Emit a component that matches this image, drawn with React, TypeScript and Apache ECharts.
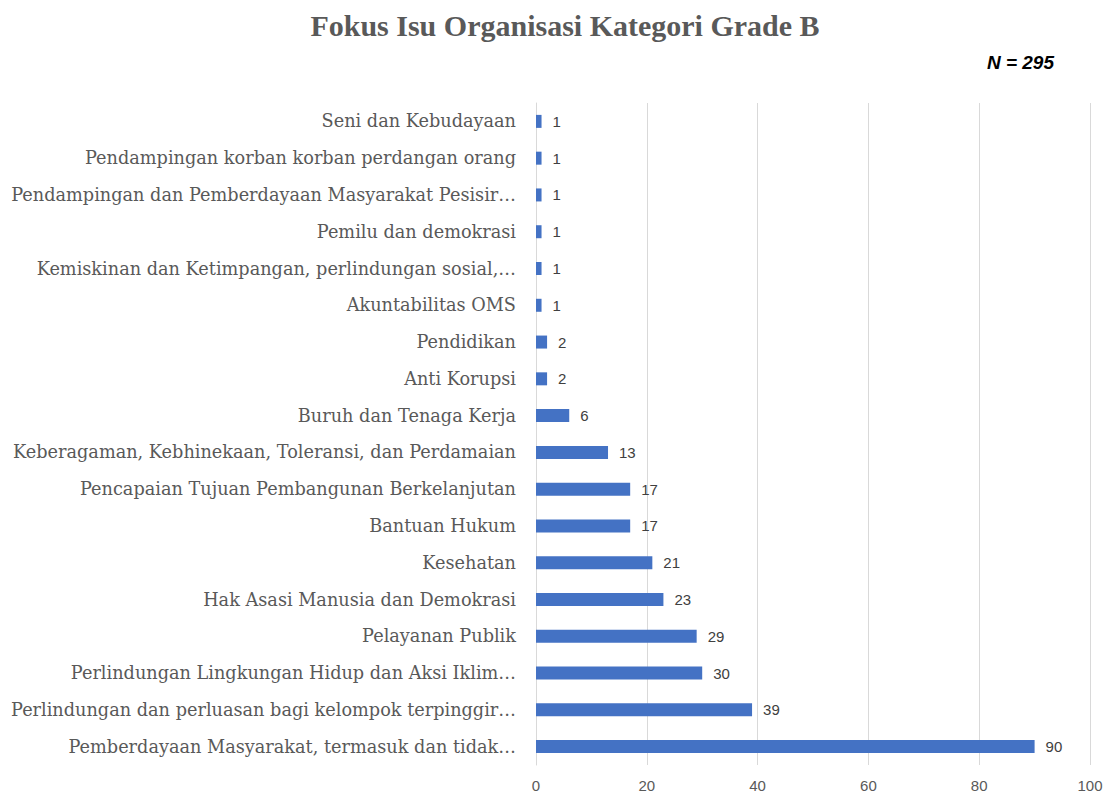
import React, { useEffect, useRef } from "react";
import * as echarts from "echarts";

const categories = [
  "Pemberdayaan Masyarakat, termasuk dan tidak…",
  "Perlindungan dan perluasan bagi kelompok terpinggir…",
  "Perlindungan Lingkungan Hidup dan Aksi Iklim…",
  "Pelayanan Publik",
  "Hak Asasi Manusia dan Demokrasi",
  "Kesehatan",
  "Bantuan Hukum",
  "Pencapaian Tujuan Pembangunan Berkelanjutan",
  "Keberagaman, Kebhinekaan, Toleransi, dan Perdamaian",
  "Buruh dan Tenaga Kerja",
  "Anti Korupsi",
  "Pendidikan",
  "Akuntabilitas OMS",
  "Kemiskinan dan Ketimpangan, perlindungan sosial,…",
  "Pemilu dan demokrasi",
  "Pendampingan dan Pemberdayaan Masyarakat Pesisir…",
  "Pendampingan korban korban perdangan orang",
  "Seni dan Kebudayaan",
];
const values = [90, 39, 30, 29, 23, 21, 17, 17, 13, 6, 2, 2, 1, 1, 1, 1, 1, 1];
const titleText = "Fokus Isu Organisasi Kategori Grade B";
const noteText = "N = 295";

export default function App() {
  const ref = useRef<HTMLDivElement>(null);
  useEffect(() => {
    if (!ref.current) return;
    const chart = echarts.init(ref.current, null, { renderer: "svg" });
    chart.setOption({
      animation: false,
      backgroundColor: "#ffffff",
      title: {
        text: titleText,
        left: 560,
        textAlign: "center",
        top: 5,
        textStyle: {
          fontFamily: "Liberation Serif, serif",
          fontWeight: "bold",
          fontSize: 30,
          color: "#595959",
        },
      },
      graphic: [
        {
          type: "text",
          right: 53,
          top: 53,
          style: {
            text: noteText,
            font: "italic bold 19px 'Liberation Sans Narrow', 'Liberation Sans', sans-serif",
            fill: "#000000",
          },
        },
      ],
      grid: { left: 536, right: 17, top: 103, bottom: 31, containLabel: false },
      xAxis: {
        type: "value",
        min: 0,
        max: 100,
        interval: 20,
        axisLine: { show: false },
        axisTick: { show: false },
        splitLine: { lineStyle: { color: "#d9d9d9", width: 1 } },
        axisLabel: {
          color: "#595959",
          fontSize: 15,
          fontFamily: "Liberation Sans, sans-serif",
          margin: 13,
        },
      },
      yAxis: {
        type: "category",
        data: categories,
        axisLine: { show: true, lineStyle: { color: "#d9d9d9" } },
        axisTick: { show: false },
        axisLabel: {
          color: "#595959",
          fontSize: 17.7,
          fontFamily: "DejaVu Serif, serif",
          margin: 20,
        },
      },
      series: [
        {
          type: "bar",
          data: values,
          barWidth: 13,
          itemStyle: { color: "#4472c4" },
          label: {
            show: true,
            position: "right",
            distance: 11,
            color: "#404040",
            fontSize: 15,
            fontFamily: "Liberation Sans, sans-serif",
          },
        },
      ],
    });
    return () => chart.dispose();
  }, []);
  return (
    <div
      ref={ref}
      style={{ position: "fixed", left: 0, top: 0, width: 1107, height: 796 }}
    />
  );
}
